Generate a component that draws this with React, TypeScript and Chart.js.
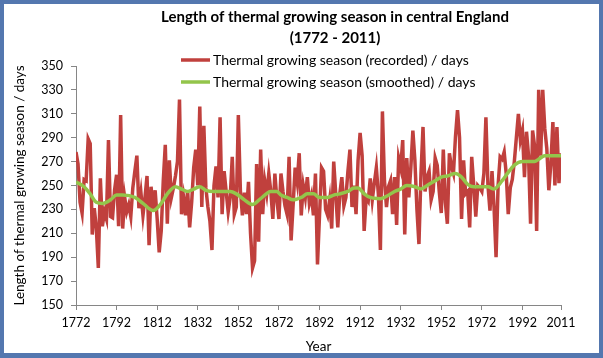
import React, { useEffect, useRef } from 'react';
import { Chart, registerables } from 'chart.js';

Chart.register(...registerables);

// ---------- data ----------
const firstYear = 1772;

const recordedDays = [
  278, 268, 236, 227, 255, 254, 289, 285, 209, 231, // 1772-1781
  215, 181, 256, 216, 228, 222, 288, 224, 223, 246, // 1782-1791
  259, 216, 309, 214, 240, 228, 234, 224, 248, 262, // 1792-1801
  275, 231, 244, 225, 240, 258, 200, 249, 228, 246, // 1802-1811
  222, 194, 212, 254, 284, 218, 271, 240, 248, 258, // 1812-1821
  270, 322, 226, 240, 225, 246, 215, 236, 265, 280, // 1822-1831
  250, 316, 232, 300, 248, 232, 220, 196, 250, 266, // 1832-1841
  240, 307, 226, 262, 245, 228, 240, 274, 226, 232, // 1842-1851
  309, 246, 225, 244, 226, 253, 210, 181, 187, 268, // 1852-1861
  203, 280, 226, 254, 243, 260, 245, 222, 260, 238, // 1862-1871
  222, 260, 245, 233, 226, 274, 204, 234, 265, 253, // 1872-1881
  277, 225, 250, 240, 257, 235, 242, 225, 260, 184, // 1882-1891
  225, 265, 262, 230, 225, 238, 214, 270, 243, 215, // 1892-1901
  243, 257, 233, 240, 262, 280, 232, 250, 226, 271, // 1902-1911
  294, 275, 212, 240, 237, 256, 238, 252, 265, 243, // 1912-1921
  196, 312, 254, 232, 249, 254, 226, 257, 217, 273, // 1922-1931
  265, 288, 209, 273, 240, 265, 296, 271, 230, 201, // 1932-1941
  260, 299, 245, 257, 262, 238, 245, 273, 267, 245, // 1942-1951
  227, 280, 236, 218, 277, 266, 260, 291, 313, 290, // 1952-1961
  222, 271, 243, 245, 215, 274, 250, 224, 250, 248, // 1962-1971
  245, 260, 307, 250, 229, 262, 232, 190, 250, 274, // 1972-1981
  272, 278, 260, 226, 248, 255, 270, 290, 310, 288, // 1982-1991
  296, 257, 295, 275, 218, 296, 283, 212, 330, 275, // 1992-2001
  330, 298, 281, 246, 268, 303, 250, 299, 252, 277, // 2002-2011
];

const smoothedYears = [
  1772, 1776, 1779, 1782, 1785, 1789, 1792, 1795, 1801, 1805,
  1810, 1814, 1817, 1821, 1824, 1827, 1830, 1833, 1836, 1840,
  1845, 1848, 1851, 1855, 1859, 1863, 1868, 1871, 1873, 1876,
  1879, 1883, 1886, 1889, 1892, 1896, 1899, 1902, 1906, 1909,
  1911, 1914, 1917, 1922, 1925, 1929, 1932, 1935, 1939, 1942,
  1945, 1949, 1952, 1955, 1959, 1962, 1965, 1968, 1972, 1975,
  1978, 1982, 1985, 1988, 1992, 1995, 1998, 2000, 2003, 2007,
  2011,
];
const smoothedDays = [
  253, 249, 243, 236, 235, 238, 242, 242, 240, 235,
  229, 235, 243, 249, 247, 245, 247, 249, 246, 245,
  245, 245, 243, 238, 234, 239, 245, 245, 242, 240,
  238, 240, 243, 243, 240, 240, 242, 243, 245, 248,
  248, 243, 240, 239, 241, 245, 247, 250, 249, 247,
  250, 254, 257, 258, 260, 257, 251, 249, 249, 249,
  247, 254, 261, 267, 270, 270, 270, 272, 275, 275,
  275,
];

const xTickYears = [1772, 1792, 1812, 1832, 1852, 1872, 1892, 1912, 1932, 1952, 1972, 1992, 2011];
const yMin = 150;
const yMax = 350;
const yStep = 20;

const titleLines = ['Length of thermal growing season in central England', '(1772 - 2011)'];
const seriesNames = ['Thermal growing season (recorded) / days', 'Thermal growing season (smoothed) / days'];
const xAxisTitle = 'Year';
const yAxisTitle = 'Length of thermal growing season / days';

const RED = '#C0403D';
const GREEN = '#93C54B';
const AXIS = '#868686';
const FONT = 'Lato';

export default function App() {
  const ref = useRef<HTMLCanvasElement | null>(null);

  useEffect(() => {
    const canvas = ref.current;
    if (!canvas) return;

    const framePlugin = {
      id: 'frame',
      beforeDraw(chart: any) {
        const { ctx, width, height } = chart;
        ctx.save();
        ctx.fillStyle = '#5477AF';
        ctx.fillRect(0, 0, width, height);
        ctx.fillStyle = '#ffffff';
        ctx.fillRect(4, 4, width - 8, height - 9);
        ctx.restore();
      },
    };

    const decorPlugin = {
      id: 'decor',
      afterDraw(chart: any) {
        const { ctx } = chart;
        ctx.save();
        // title
        ctx.fillStyle = '#000';
        ctx.textAlign = 'center';
        ctx.textBaseline = 'middle';
        ctx.font = `bold 15px ${FONT}`;
        ctx.fillText(titleLines[0], 335, 17);
        ctx.fillText(titleLines[1], 335, 38);
        // legend
        const colors = [RED, GREEN];
        const rows = [60, 82];
        ctx.textAlign = 'left';
        ctx.font = `14px ${FONT}`;
        seriesNames.forEach((name, i) => {
          ctx.strokeStyle = colors[i];
          ctx.lineWidth = 3.5;
          ctx.beginPath();
          ctx.moveTo(181, rows[i]);
          ctx.lineTo(210, rows[i]);
          ctx.stroke();
          ctx.fillStyle = '#000';
          ctx.fillText(name, 213, rows[i] + 0.5);
        });
        ctx.restore();
      },
    };

    const chart = new Chart(canvas, {
      type: 'line',
      data: {
        datasets: [
          {
            label: seriesNames[0],
            data: recordedDays.map((v, i) => ({ x: firstYear + i, y: v })),
            borderColor: RED,
            backgroundColor: RED,
            borderWidth: 3.5,
            pointRadius: 0,
            tension: 0,
            order: 2,
          },
          {
            label: seriesNames[1],
            data: smoothedYears.map((yr, i) => ({ x: yr, y: smoothedDays[i] })),
            borderColor: GREEN,
            backgroundColor: GREEN,
            borderWidth: 3.5,
            pointRadius: 0,
            cubicInterpolationMode: 'monotone',
            order: 1,
          },
        ],
      },
      options: {
        animation: false,
        responsive: false,
        devicePixelRatio: 1,
        layout: { padding: { top: 66, right: 42, left: 0, bottom: 0 } },
        plugins: {
          legend: { display: false },
          title: { display: false },
          tooltip: { enabled: false },
        },
        scales: {
          x: {
            type: 'linear',
            min: firstYear,
            max: 2011,
            afterBuildTicks: (axis: any) => {
              axis.ticks = xTickYears.map((v) => ({ value: v }));
            },
            afterFit: (axis: any) => {
              axis.height = 53;
            },
            ticks: {
              autoSkip: false,
              maxRotation: 0,
              padding: 5,
              color: '#000',
              font: { family: FONT, size: 12.5 },
              callback: (v: any) => String(v),
            },
            grid: { drawOnChartArea: false, drawTicks: true, tickLength: 5, color: AXIS },
            border: { display: true, color: AXIS },
            title: {
              display: true,
              text: xAxisTitle,
              color: '#000',
              font: { family: FONT, size: 13.5 },
              padding: { top: 0, bottom: 3 },
            },
          },
          y: {
            min: yMin,
            max: yMax,
            afterFit: (axis: any) => {
              axis.width = 76;
            },
            ticks: {
              stepSize: yStep,
              padding: 8,
              color: '#000',
              font: { family: FONT, size: 12.5 },
            },
            grid: { drawOnChartArea: false, drawTicks: true, tickLength: 5, color: AXIS },
            border: { display: true, color: AXIS },
            title: {
              display: true,
              text: yAxisTitle,
              color: '#000',
              font: { family: FONT, size: 13.5 },
              padding: { top: 12, bottom: 0 },
            },
          },
        },
      },
      plugins: [framePlugin, decorPlugin],
    } as any);

    return () => chart.destroy();
  }, []);

  return (
    <div style={{ position: 'fixed', left: 0, top: 0, width: 603, height: 358 }}>
      <canvas ref={ref} width={603} height={358} style={{ display: 'block', width: 603, height: 358 }} />
    </div>
  );
}
